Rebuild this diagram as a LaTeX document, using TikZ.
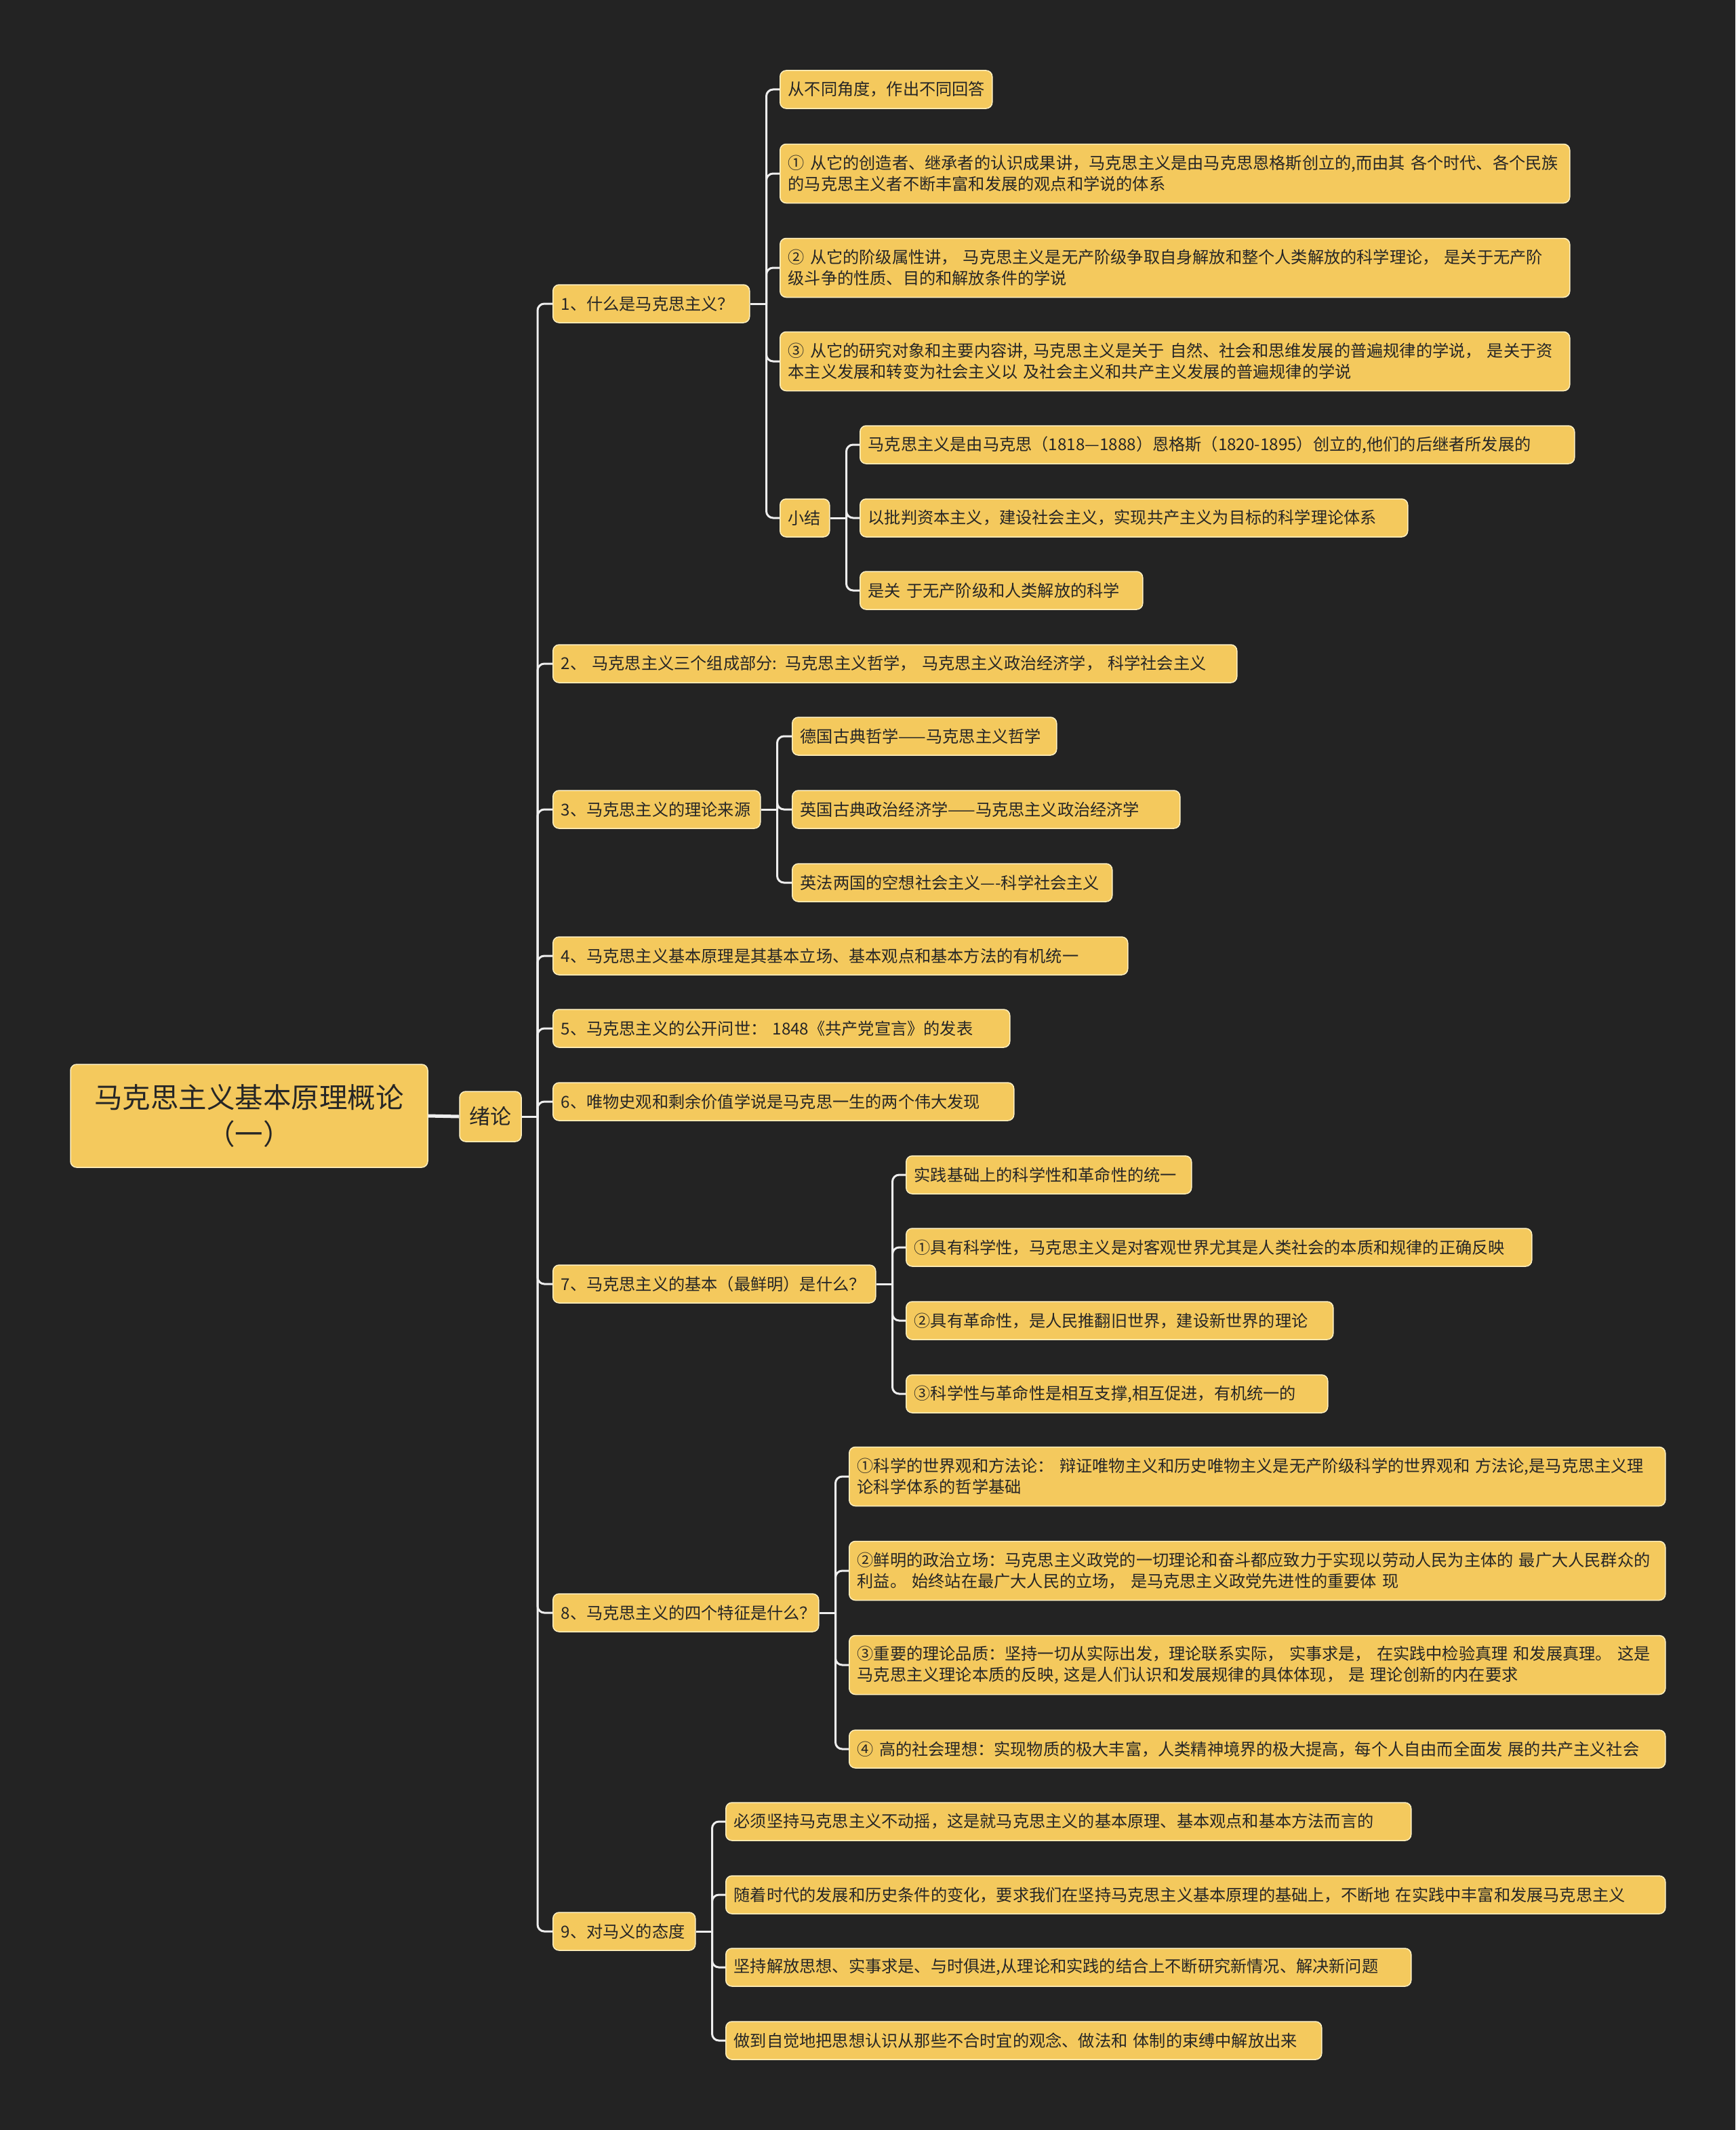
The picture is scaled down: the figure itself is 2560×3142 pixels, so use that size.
\documentclass[tikz,border=0pt]{standalone}
\usepackage{fontspec}
\setmainfont{Noto Sans CJK SC}
\definecolor{bg}{HTML}{232323}
\definecolor{boxc}{HTML}{F4C95D}
\definecolor{edgec}{HTML}{FFF0C0}
\definecolor{txt}{HTML}{262626}
\definecolor{linec}{HTML}{EEEEEE}
\tikzset{
  leaf/.style={anchor=west, rounded corners=9pt, fill=boxc, draw=edgec, line width=1.5pt,
    inner xsep=12pt, inner ysep=0pt, align=left, text=txt,
    font=\fontsize{24.2pt}{31pt}\selectfont},
  rootbox/.style={rounded corners=9pt, fill=boxc, draw=edgec, line width=1.5pt,
    align=center, text=txt, inner sep=0pt},
  conn/.style={draw=linec, line width=3pt, rounded corners=10pt},
}
\newcommand\leafnode[6]{\node[leaf, minimum width=#4pt, text width=#4pt-24pt, minimum height=#5pt] (#1) at (#2,#3) {#6};}
\begin{document}
\begin{tikzpicture}[x=1pt,y=-1pt]
\fill[bg] (0,0) rectangle (2560,3142);
\useasboundingbox (0,0) rectangle (2560,3142);

% root and first level
\node[rootbox, minimum width=527pt, minimum height=152pt, font=\fontsize{41.5pt}{54pt}\selectfont] (root) at (367.5,1646) {马克思主义基本原理概论\\（一）};
\node[rootbox, minimum width=91pt, minimum height=74pt, font=\fontsize{31pt}{36pt}\selectfont] (xulun) at (723.5,1647) {绪论};

\leafnode{n1}{815}{448}{290}{56}{1、什么是马克思主义？}
\leafnode{n2}{815}{979}{1009}{56}{2、 马克思主义三个组成部分: 马克思主义哲学， 马克思主义政治经济学， 科学社会主义}
\leafnode{n3}{815}{1194}{306}{56}{3、马克思主义的理论来源}
\leafnode{n4}{815}{1410}{848}{56}{4、马克思主义基本原理是其基本立场、基本观点和基本方法的有机统一}
\leafnode{n5}{815}{1517}{674}{56}{5、马克思主义的公开问世： 1848《共产党宣言》的发表}
\leafnode{n6}{815}{1625}{680}{56}{6、唯物史观和剩余价值学说是马克思一生的两个伟大发现}
\leafnode{n7}{815}{1894}{476}{56}{7、马克思主义的基本（最鲜明）是什么？}
\leafnode{n8}{815}{2379}{392}{56}{8、马克思主义的四个特征是什么？}
\leafnode{n9}{815}{2849}{210}{56}{9、对马义的态度}

% children of 1
\leafnode{a1}{1150}{132}{313}{56}{从不同角度，作出不同回答}
\leafnode{a2}{1150}{256}{1165}{87}{① 从它的创造者、继承者的认识成果讲，马克思主义是由马克思恩格斯创立的,而由其 各个时代、各个民族\\的马克思主义者不断丰富和发展的观点和学说的体系}
\leafnode{a3}{1150}{395}{1165}{87}{② 从它的阶级属性讲， 马克思主义是无产阶级争取自身解放和整个人类解放的科学理论， 是关于无产阶\\级斗争的性质、目的和解放条件的学说}
\leafnode{a4}{1150}{533}{1165}{87}{③ 从它的研究对象和主要内容讲, 马克思主义是关于 自然、社会和思维发展的普遍规律的学说， 是关于资\\本主义发展和转变为社会主义以 及社会主义和共产主义发展的普遍规律的学说}
\leafnode{a5}{1150}{764}{73}{56}{小结}
\leafnode{s1}{1268}{656}{1054}{56}{马克思主义是由马克思（1818—1888）恩格斯（1820-1895）创立的,他们的后继者所发展的}
\leafnode{s2}{1268}{764}{808}{56}{以批判资本主义，建设社会主义，实现共产主义为目标的科学理论体系}
\leafnode{s3}{1268}{871}{417}{56}{是关 于无产阶级和人类解放的科学}

% children of 3
\leafnode{b1}{1168}{1086}{390}{56}{德国古典哲学——马克思主义哲学}
\leafnode{b2}{1168}{1194}{572}{56}{英国古典政治经济学——马克思主义政治经济学}
\leafnode{b3}{1168}{1302}{472}{56}{英法两国的空想社会主义—-科学社会主义}

% children of 7
\leafnode{c1}{1336}{1733}{421}{56}{实践基础上的科学性和革命性的统一}
\leafnode{c2}{1336}{1840}{923}{56}{①具有科学性，马克思主义是对客观世界尤其是人类社会的本质和规律的正确反映}
\leafnode{c3}{1336}{1948}{630}{56}{②具有革命性，是人民推翻旧世界，建设新世界的理论}
\leafnode{c4}{1336}{2056}{622}{56}{③科学性与革命性是相互支撑,相互促进，有机统一的}

% children of 8
\leafnode{d1}{1252}{2178}{1204}{87}{①科学的世界观和方法论： 辩证唯物主义和历史唯物主义是无产阶级科学的世界观和 方法论,是马克思主义理\\论科学体系的哲学基础}
\leafnode{d2}{1252}{2317}{1204}{87}{②鲜明的政治立场：马克思主义政党的一切理论和奋斗都应致力于实现以劳动人民为主体的 最广大人民群众的\\利益。 始终站在最广大人民的立场， 是马克思主义政党先进性的重要体 现}
\leafnode{d3}{1252}{2456}{1204}{87}{③重要的理论品质：坚持一切从实际出发，理论联系实际， 实事求是， 在实践中检验真理 和发展真理。 这是\\马克思主义理论本质的反映, 这是人们认识和发展规律的具体体现， 是 理论创新的内在要求}
\leafnode{d4}{1252}{2580}{1204}{56}{④ 高的社会理想：实现物质的极大丰富，人类精神境界的极大提高，每个人自由而全面发 展的共产主义社会}

% children of 9
\leafnode{e1}{1070}{2687}{1011}{56}{必须坚持马克思主义不动摇，这是就马克思主义的基本原理、基本观点和基本方法而言的}
\leafnode{e2}{1070}{2795}{1386}{56}{随着时代的发展和历史条件的变化，要求我们在坚持马克思主义基本原理的基础上，不断地 在实践中丰富和发展马克思主义}
\leafnode{e3}{1070}{2902}{1011}{56}{坚持解放思想、实事求是、与时俱进,从理论和实践的结合上不断研究新情况、解决新问题}
\leafnode{e4}{1070}{3010}{879}{56}{做到自觉地把思想认识从那些不合时宜的观念、做法和 体制的束缚中解放出来}

% connectors
\draw[conn, line width=5pt] (root.east) -- (xulun.west);
\coordinate (t0) at (793,1647);
\draw[conn] (xulun.east) -- (t0);
\foreach \c in {n1,n2,n3,n4,n5,n6,n7,n8,n9} \draw[conn] (t0) |- (\c.west);

\coordinate (j1) at ([xshift=24pt]n1.east);
\draw[conn] (n1.east) -- (j1);
\foreach \c in {a1,a2,a3,a4,a5} \draw[conn] (j1) |- (\c.west);

\coordinate (js) at ([xshift=24pt]a5.east);
\draw[conn] (a5.east) -- (js);
\foreach \c in {s1,s2,s3} \draw[conn] (js) |- (\c.west);

\coordinate (j3) at ([xshift=24pt]n3.east);
\draw[conn] (n3.east) -- (j3);
\foreach \c in {b1,b2,b3} \draw[conn] (j3) |- (\c.west);

\coordinate (j7) at ([xshift=24pt]n7.east);
\draw[conn] (n7.east) -- (j7);
\foreach \c in {c1,c2,c3,c4} \draw[conn] (j7) |- (\c.west);

\coordinate (j8) at ([xshift=24pt]n8.east);
\draw[conn] (n8.east) -- (j8);
\foreach \c in {d1,d2,d3,d4} \draw[conn] (j8) |- (\c.west);

\coordinate (j9) at ([xshift=24pt]n9.east);
\draw[conn] (n9.east) -- (j9);
\foreach \c in {e1,e2,e3,e4} \draw[conn] (j9) |- (\c.west);
\end{tikzpicture}
\end{document}
